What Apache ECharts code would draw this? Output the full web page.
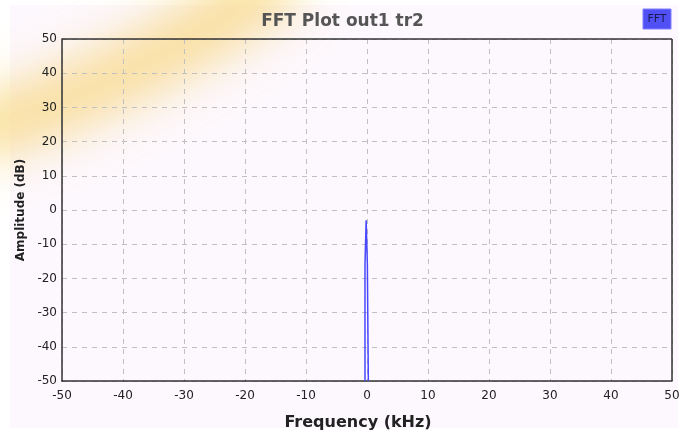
<!DOCTYPE html>
<html><head><meta charset="utf-8">
<script src="https://cdn.jsdelivr.net/npm/echarts@6/dist/echarts.min.js"></script>
<style>html,body{margin:0;padding:0;background:#fff}#c{width:685px;height:436px}</style>
</head><body><div id="c"></div>
<script>
const chartTitle = "FFT Plot out1 tr2";
const seriesName = "FFT";
const xAxisName = "Frequency (kHz)";
const yAxisName = "Amplitude (dB)";
// FFT trace points [frequency kHz, amplitude dB]
const freqs = [-0.33, -0.33, -0.14, -0.14, 0.06, 0.06, 0.22, 0.22];
const amps  = [-50, -16, -16, -3, -3, -16, -16, -50];

const chart = echarts.init(document.getElementById('c'));
const OFF = 2000;
chart.setOption({
  backgroundColor: '#ffffff',
  animation: false,
  graphic: [
    { type: 'rect', z: -10, silent: true, shape: { x: 10, y: 5, width: 668, height: 423 }, style: { fill: '#fdf8fd' } },
    { type: 'bezierCurve', z: -5, silent: true,
      shape: { x1: -40 - OFF, y1: 135, x2: 285 - OFF, y2: -25, cpx1: 70 - OFF, cpy1: 105, cpx2: 185 - OFF, cpy2: 50 },
      style: { stroke: 'rgba(246,208,105,1)', lineWidth: 58, fill: null,
               shadowBlur: 50, shadowColor: 'rgba(246,208,105,0.7)', shadowOffsetX: OFF, shadowOffsetY: 0 } },
    { type: 'rect', z: 10, shape: { x: 643, y: 9, width: 28, height: 20 }, style: { fill: '#5050f5', stroke: '#8080ff', lineWidth: 1 } },
    { type: 'text', z: 11, style: { text: seriesName, x: 657, y: 19, align: 'center', verticalAlign: 'middle', fill: '#1a1a50', font: '11px "DejaVu Sans"' } }
  ],
  title: {
    text: chartTitle, left: 'center', top: 8,
    textStyle: { fontFamily: 'DejaVu Sans', fontWeight: 'bold', fontSize: 17, color: '#555' }
  },
  grid: { left: 62, right: 13, top: 39, bottom: 55, containLabel: false },
  xAxis: {
    type: 'value', min: -50, max: 50, interval: 10,
    name: xAxisName, nameLocation: 'middle', nameGap: 34,
    nameTextStyle: { fontFamily: 'DejaVu Sans', fontWeight: 'bold', fontSize: 16, color: '#222', padding: [0, 18, 0, 0] },
    axisLine: { onZero: false, lineStyle: { color: '#333', width: 1.5 } },
    axisTick: { show: false },
    axisLabel: { fontFamily: 'DejaVu Sans', fontSize: 12, color: '#222', margin: 9 },
    splitLine: { show: true, lineStyle: { type: [5, 5], color: '#c0c0c0' } }
  },
  yAxis: {
    type: 'value', min: -50, max: 50, interval: 10,
    name: yAxisName, nameLocation: 'middle', nameGap: 35, nameRotate: 90,
    nameTextStyle: { fontFamily: 'DejaVu Sans', fontWeight: 'bold', fontSize: 12, color: '#222' },
    axisLine: { show: true, onZero: false, lineStyle: { color: '#333', width: 1.5 } },
    axisTick: { show: false },
    axisLabel: { fontFamily: 'DejaVu Sans', fontSize: 12, color: '#222', margin: 5 },
    splitLine: { show: true, lineStyle: { type: [5, 5], color: '#c0c0c0' } }
  },
  series: [
    {
      name: seriesName, type: 'line', symbol: 'none',
      data: freqs.map(function (f, i) { return [f, amps[i]]; }),
      lineStyle: { color: '#4848ff', width: 1.5 }, clip: true
    },
    {
      type: 'line', silent: true, symbol: 'none', data: [],
      markLine: { silent: true, symbol: 'none', label: { show: false },
        lineStyle: { color: '#333', width: 1.5, type: 'solid' },
        data: [ [ { coord: [-50, 50] }, { coord: [50, 50] } ], [ { coord: [50, 50] }, { coord: [50, -50] } ] ] }
    }
  ]
});
</script></body></html>
